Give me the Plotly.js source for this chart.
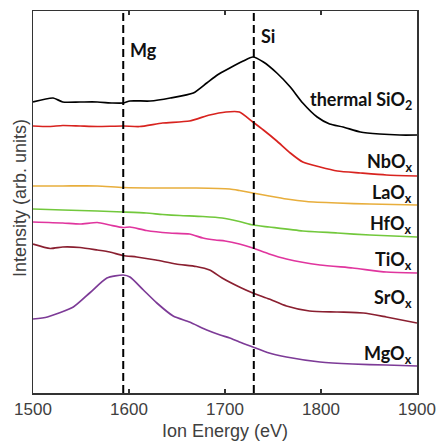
<!DOCTYPE html>
<html>
<head>
<meta charset="utf-8">
<script src="https://cdn.plot.ly/plotly-3.0.1.min.js"></script>
<style>html,body{margin:0;padding:0;background:#fff;}#chart{width:437px;height:443px;}</style>
</head>
<body>
<div id="chart"></div>
<script>
// Energies (eV) and intensities (arb. units, stacked offsets as drawn)
const sio2E = [1500,1521,1531,1549,1567,1583,1594,1601,1622,1643,1667,1681,1692,1705,1719,1729,1740,1754,1768,1781,1796,1809,1823,1841,1861,1882,1900];
const sio2I = [2.91,2.95,2.91,2.91,2.91,2.90,2.90,2.92,2.92,2.95,3.00,3.10,3.18,3.25,3.32,3.36,3.31,3.20,3.06,2.90,2.76,2.69,2.66,2.61,2.59,2.58,2.58];

const nbE = [1500,1517,1531,1549,1567,1594,1611,1635,1663,1684,1701,1715,1729,1740,1754,1768,1781,1799,1817,1841,1868,1900];
const nbI = [2.67,2.665,2.675,2.67,2.665,2.67,2.665,2.70,2.72,2.78,2.81,2.81,2.71,2.63,2.52,2.40,2.31,2.26,2.22,2.20,2.18,2.17];

const laE = [1500,1531,1567,1594,1635,1670,1705,1715,1729,1746,1764,1785,1817,1851,1900];
const laI = [2.07,2.07,2.07,2.055,2.05,2.05,2.04,2.025,2.00,1.97,1.94,1.915,1.90,1.89,1.88];

const hfE = [1500,1531,1567,1594,1618,1635,1653,1677,1697,1715,1729,1746,1781,1817,1851,1900];
const hfI = [1.84,1.83,1.82,1.81,1.80,1.785,1.775,1.765,1.75,1.715,1.68,1.66,1.62,1.60,1.58,1.56];

const tiE = [1500,1531,1549,1567,1580,1594,1601,1618,1642,1663,1677,1690,1700,1715,1729,1746,1764,1799,1833,1868,1900];
const tiI = [1.71,1.70,1.69,1.705,1.68,1.655,1.66,1.625,1.60,1.59,1.55,1.53,1.52,1.49,1.45,1.39,1.34,1.28,1.25,1.21,1.20];

const srE = [1500,1518,1531,1549,1567,1580,1594,1608,1628,1649,1670,1684,1697,1715,1729,1746,1764,1788,1817,1844,1868,1900];
const srI = [1.49,1.445,1.46,1.455,1.43,1.41,1.375,1.36,1.33,1.29,1.265,1.23,1.15,1.06,1.00,0.94,0.87,0.82,0.81,0.80,0.76,0.70];

const mgE = [1500,1515,1542,1559,1577,1594,1601,1615,1629,1646,1663,1681,1695,1705,1715,1729,1746,1764,1799,1833,1868,1900];
const mgI = [0.74,0.76,0.86,1.00,1.15,1.18,1.16,1.03,0.90,0.77,0.71,0.63,0.58,0.55,0.51,0.46,0.40,0.36,0.31,0.29,0.28,0.27];

const seriesNames = ['thermal SiO<sub>2</sub>','NbO<sub>x</sub>','LaO<sub>x</sub>','HfO<sub>x</sub>','TiO<sub>x</sub>','SrO<sub>x</sub>','MgO<sub>x</sub>'];
const labelY = [2.93, 2.31, 2.00, 1.69, 1.33, 0.95, 0.39];
const markers = ['Mg','Si'];
const markerE = [1594, 1730];
const markerLabelY = [3.43, 3.57];
const xTicks = [1500,1600,1700,1800,1900];

const colors = ['#000000','#d8231f','#e8ae3c','#72c83c','#e0359e','#8a1f30','#7d3b97'];
const xs = [sio2E,nbE,laE,hfE,tiE,srE,mgE];
const ys = [sio2I,nbI,laI,hfI,tiI,srI,mgI];

const traces = xs.map((x,i)=>({
  x: x, y: ys[i], type:'scatter', mode:'lines', name: seriesNames[i],
  line:{color:colors[i], width:1.7, shape:'spline', smoothing:0.6},
  hoverinfo:'skip'
}));

const labelFont = {family:'Lato, "Open Sans", sans-serif', size:18, color:'#111'};
const titleFont = {family:'Liberation Sans, Arial, sans-serif', size:18, color:'#404040'};
const annotations = seriesNames.map((n,i)=>({
  x:1897, y:labelY[i], xref:'x', yref:'y', text:'<b>'+n+'</b>', showarrow:false,
  xanchor:'right', yanchor:'middle', font:labelFont
})).concat(markers.map((m,i)=>({
  x:markerE[i]+5, y:markerLabelY[i], xref:'x', yref:'y', text:'<b>'+m+'</b>', showarrow:false,
  xanchor:'left', yanchor:'middle', font:labelFont
}))).concat([{
  x:-0.034, y:0.51, xref:'paper', yref:'paper', text:'Intensity (arb. units)', textangle:-90,
  showarrow:false, xanchor:'center', yanchor:'middle', font:titleFont
}]);

const shapes = markerE.map(e=>({
  type:'line', xref:'x', yref:'paper', x0:e, x1:e, y0:0, y1:1,
  line:{color:'#000', width:2, dash:'8px,4px'}
}));

const axisFont = {family:'Liberation Sans, Arial, sans-serif', size:17, color:'#404040'};
const layout = {
  width:437, height:443,
  margin:{l:33, r:20, t:11, b:50},
  paper_bgcolor:'#fff', plot_bgcolor:'#fff',
  showlegend:false,
  xaxis:{
    range:[1500,1900], tickvals:xTicks, ticktext:xTicks.map(String),
    ticks:'inside', ticklen:4, tickwidth:1.2, tickcolor:'#333',
    showline:true, linecolor:'#333', linewidth:1.5, mirror:'allticks',
    showgrid:false, zeroline:false,
    tickfont:axisFont,
    title:{text:'Ion Energy (eV)', font:titleFont, standoff:6}
  },
  yaxis:{
    range:[0,3.82], showticklabels:false, ticks:'',
    showline:true, linecolor:'#333', linewidth:1.5, mirror:true,
    showgrid:false, zeroline:false
  },
  annotations: annotations,
  shapes: shapes
};

Plotly.newPlot('chart', traces, layout, {displayModeBar:false, staticPlot:true});
</script>
</body>
</html>
